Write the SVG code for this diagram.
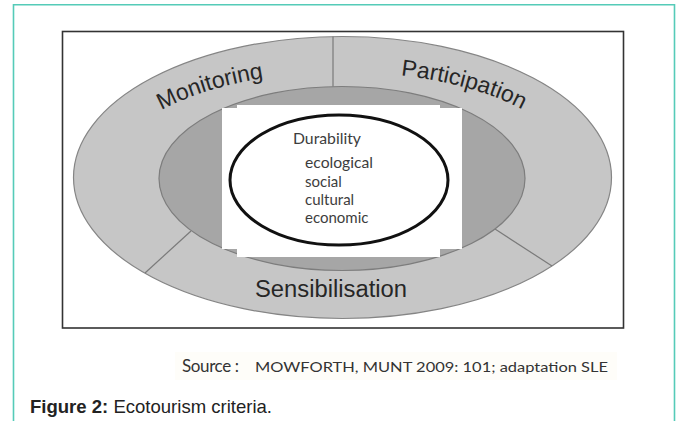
<svg xmlns="http://www.w3.org/2000/svg" width="681" height="421" viewBox="0 0 681 421">
  <style>
    .ring-label { font-family: "Liberation Sans", Arial, sans-serif; font-size: 23px; fill: #262626; }
    .core-text { font-family: Lato, "Open Sans", sans-serif; font-size: 15px; fill: #3d3d3d; }
    .divider { stroke: #7a7a7a; stroke-width: 1.2; fill: none; }
  </style>
  <defs>
    <path id="arcTop" d="M 107.5,177 A 235 105 0 0 1 577.5,177"/>
  </defs>
  <rect x="0" y="0" width="681" height="421" fill="#ffffff"/>
  <path d="M13.5,421 V4.7 H674.5 V421" fill="none" stroke="#55cbb8" stroke-width="1.6"/>

  <g id="frame">
    <rect x="62.5" y="31.5" width="561" height="296.5" fill="#ffffff" stroke="#333333" stroke-width="1.6"/>
  </g>

  <g id="outer-ring">
    <ellipse cx="342.5" cy="177.5" rx="269" ry="141" fill="#c6c6c6" stroke="#858585" stroke-width="1.2"/>
  </g>

  <g id="dividers">
    <line class="divider" x1="333" y1="36.6" x2="333" y2="86.8"/>
    <line class="divider" x1="145" y1="273" x2="191" y2="231"/>
    <line class="divider" x1="495" y1="229" x2="552" y2="266"/>
  </g>

  <g id="monitoring">
    <text class="ring-label"><textPath href="#arcTop" startOffset="26%" text-anchor="middle">Monitoring</textPath></text>
  </g>

  <g id="participation">
    <text class="ring-label"><textPath href="#arcTop" startOffset="72%" text-anchor="middle">Participation</textPath></text>
  </g>

  <g id="sensibilisation">
    <text class="ring-label" x="331" y="296.5" text-anchor="middle" textLength="152" lengthAdjust="spacingAndGlyphs">Sensibilisation</text>
  </g>

  <g id="inner-ring">
    <ellipse cx="342" cy="178.5" rx="183" ry="92" fill="#a6a6a6" stroke="#7d7d7d" stroke-width="1.2"/>
  </g>

  <g id="durability">
    <polygon points="237,105 440,105 440,108 462,108 462,249 440,249 440,257 237,257 237,249 222,249 222,108 237,108" fill="#ffffff"/>
    <ellipse cx="339" cy="180" rx="109" ry="65" fill="none" stroke="#111111" stroke-width="3"/>
    <text class="core-text" x="293" y="144" textLength="68" lengthAdjust="spacingAndGlyphs">Durability</text>
    <text class="core-text" x="305" y="168" textLength="68" lengthAdjust="spacingAndGlyphs">ecological</text>
    <text class="core-text" x="305" y="187">social</text>
    <text class="core-text" x="305" y="205">cultural</text>
    <text class="core-text" x="305" y="223">economic</text>
  </g>

  <g id="source">
    <rect x="175" y="352" width="442" height="28" fill="#fefdf9"/>
    <text font-family="Lato, 'Open Sans', sans-serif" fill="#333333"><tspan x="182" y="372" font-size="17" textLength="57" lengthAdjust="spacing">Source :</tspan><tspan x="255" y="372" font-size="13.5" textLength="353" lengthAdjust="spacingAndGlyphs">MOWFORTH, MUNT 2009: 101; adaptation SLE</tspan></text>
  </g>

  <g id="caption">
    <text x="30" y="413" font-family="'Liberation Sans', Arial, sans-serif" font-size="19" fill="#222222" textLength="242" lengthAdjust="spacingAndGlyphs"><tspan font-weight="bold">Figure 2:</tspan> Ecotourism criteria.</text>
  </g>
</svg>
